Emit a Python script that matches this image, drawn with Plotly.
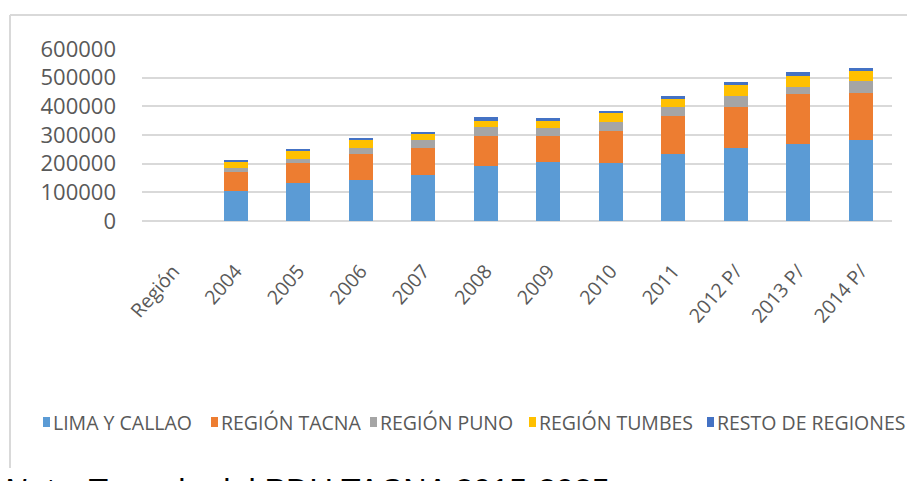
import plotly.graph_objects as go

categories = ["Región", "2004", "2005", "2006", "2007", "2008", "2009", "2010",
              "2011", "2012 P/", "2013 P/", "2014 P/"]
lima_callao = [None, 106000, 133000, 144000, 160000, 192000, 207000, 203000, 235000, 256000, 267000, 283000]
region_tacna = [None, 65000, 70000, 91000, 96000, 106000, 91000, 112000, 133000, 143000, 176000, 164000]
region_puno = [None, 15000, 15000, 21000, 25000, 31000, 27000, 31000, 31000, 37000, 26000, 42000]
region_tumbes = [None, 21000, 27000, 26000, 22000, 21000, 25000, 30000, 26000, 37000, 36000, 33000]
resto_regiones = [None, 7000, 6000, 8000, 7000, 13000, 8000, 8000, 12000, 13000, 14000, 12000]

series_names = ["LIMA Y CALLAO", "REGIÓN TACNA", "REGIÓN PUNO", "REGIÓN TUMBES", "RESTO DE REGIONES"]
series_values = [lima_callao, region_tacna, region_puno, region_tumbes, resto_regiones]
colors = ["#5B9BD5", "#ED7D31", "#A5A5A5", "#FFC000", "#4472C4"]

W, H = 907, 481
L, R, T, B = 142, 15, 49, 260
pw, ph = W - L - R, H - T - B


def px(x):
    return (x - L) / pw


def py(y):
    return (H - B - y) / ph


fig = go.Figure()
for name, vals, col in zip(series_names, series_values, colors):
    fig.add_trace(go.Bar(x=categories, y=vals, name=name, marker_color=col,
                         marker_line_width=0, showlegend=False))

shapes = [
    dict(type="line", xref="paper", yref="paper", x0=px(10), x1=px(907), y0=py(15), y1=py(15),
         line=dict(color="#D9D9D9", width=2)),
    dict(type="line", xref="paper", yref="paper", x0=px(10), x1=px(10), y0=py(15), y1=py(468),
         line=dict(color="#D9D9D9", width=2)),
]
annotations = []
legend_sq_x = [43, 211, 370, 529, 707]
legend_txt_x = [51, 219, 378, 537, 715]
for name, col, sx, tx in zip(series_names, colors, legend_sq_x, legend_txt_x):
    shapes.append(dict(type="rect", xref="paper", yref="paper", x0=px(sx), x1=px(sx + 7),
                       y0=py(427), y1=py(417), fillcolor=col, line=dict(width=0)))
    annotations.append(dict(text=name, xref="paper", yref="paper", x=px(tx), y=py(422),
                            xanchor="left", yanchor="middle", showarrow=False,
                            font=dict(family="Open Sans", size=19.5, color="#595959")))

annotations.append(dict(text="<i>Nota</i>: Tomado del PDU TACNA 2015-2025", xref="paper", yref="paper",
                        x=px(1), y=py(471), xanchor="left", yanchor="top", showarrow=False,
                        font=dict(family="Liberation Sans", size=32.3, color="#000000")))

fig.update_layout(
    width=W, height=H,
    margin=dict(l=L, r=R, t=T, b=B, autoexpand=False),
    barmode="stack", bargap=0.615,
    paper_bgcolor="white", plot_bgcolor="white",
    shapes=shapes, annotations=annotations,
    xaxis=dict(type="category", range=[-0.5, 11.5], tickangle=-49, showgrid=False,
               showline=False, ticks="", ticklabelstandoff=34,
               tickfont=dict(family="Open Sans", size=19.5, color="#595959")),
    yaxis=dict(range=[0, 600000], dtick=100000, tickformat="d", showgrid=True,
               gridcolor="#D9D9D9", gridwidth=1.5, zeroline=True, zerolinecolor="#D9D9D9",
               zerolinewidth=1.5, showline=False, ticks="", ticklabelstandoff=25,
               tickfont=dict(family="Open Sans", size=22, color="#595959")),
)

fig.write_html("out.html", config={"displayModeBar": False},
               post_script="document.body.style.margin='0';document.body.style.overflow='hidden';")
